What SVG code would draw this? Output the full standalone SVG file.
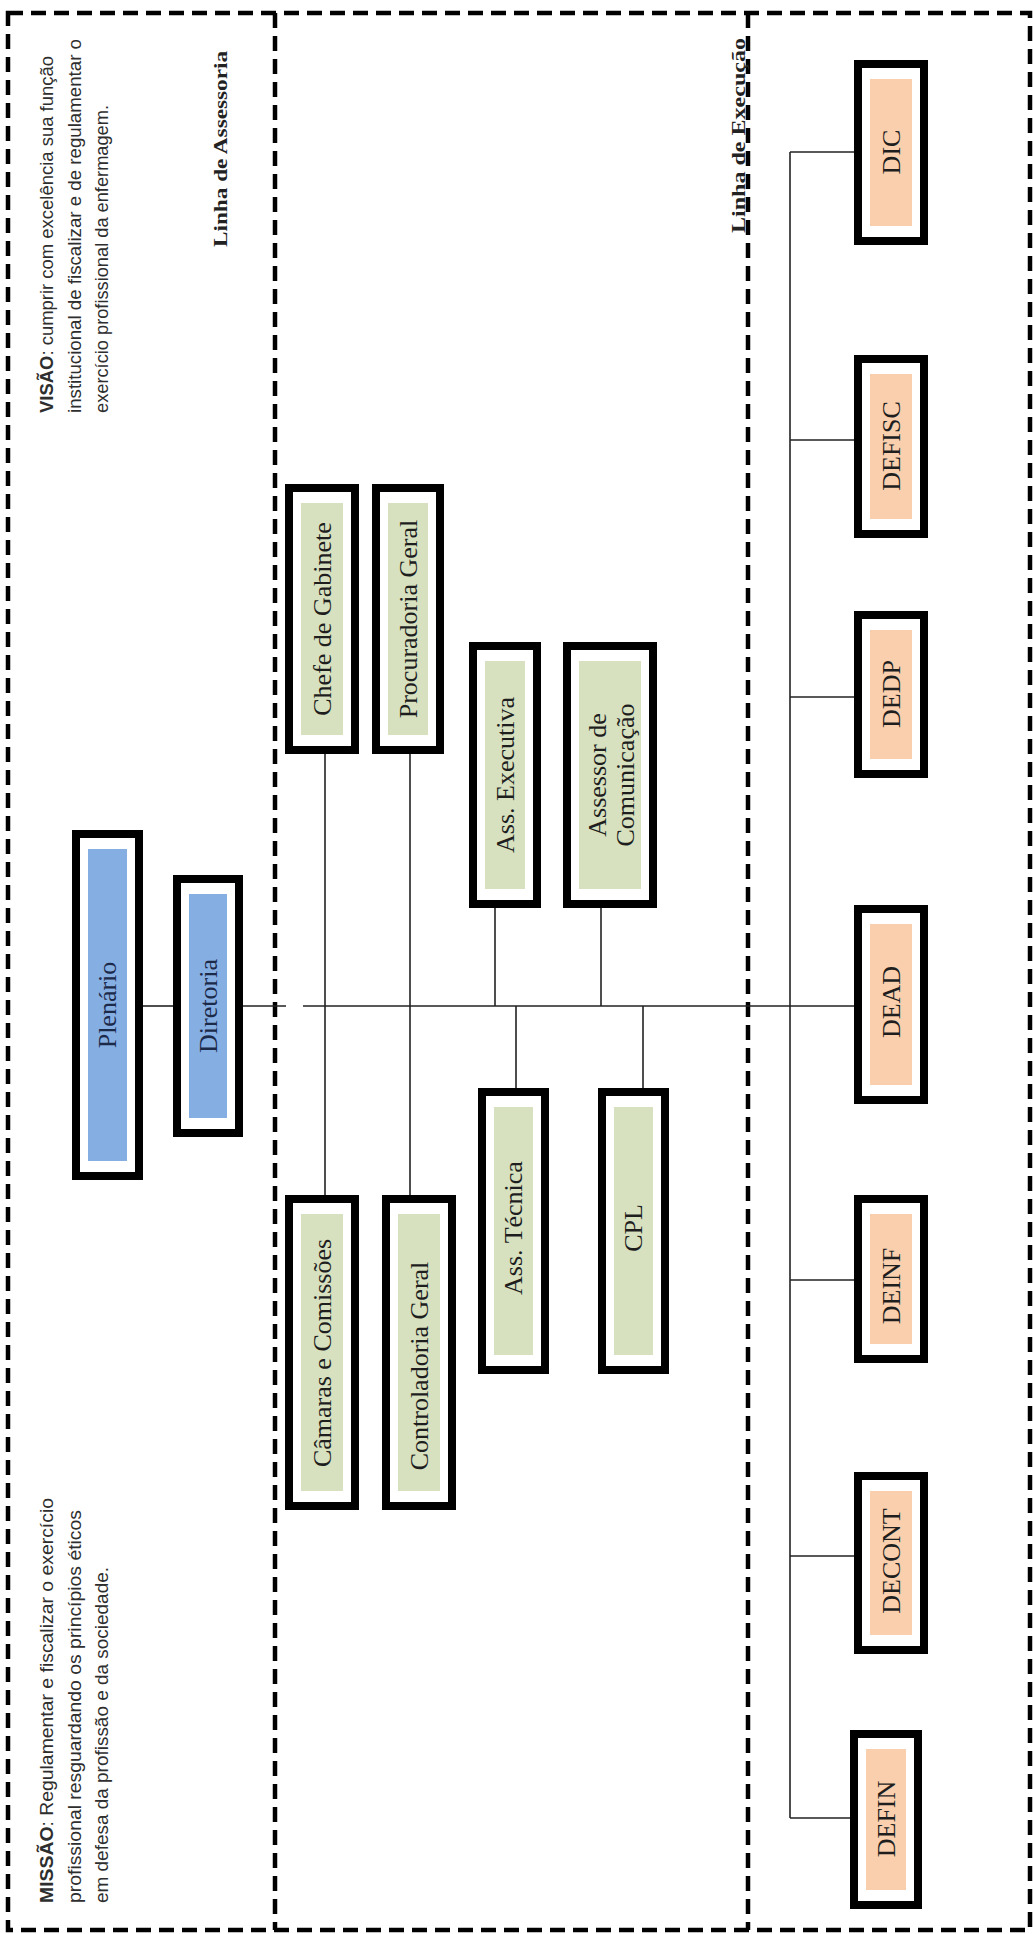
<svg xmlns="http://www.w3.org/2000/svg" width="1033" height="1934" viewBox="0 0 1033 1934">
<style>
.bg{fill:#fff}
.dash{fill:none;stroke:#000;stroke-width:4.5;stroke-dasharray:15 8}
.frame{fill:#fff;stroke:#000;stroke-width:8}
.blue{fill:#85aee3}
.green{fill:#d7e1bf}
.peach{fill:#f9cfad}
.lbl{font-family:"Liberation Serif","Times New Roman",serif;font-size:26px;text-anchor:middle;dominant-baseline:central;fill:#1e1e1e}
.lblb{fill:#1c2a4a}
.conn line{stroke:#222;stroke-width:1.6}
.para{font-family:"Liberation Sans",Arial,sans-serif;font-size:18px;fill:#2e2e2e;dominant-baseline:central}
.head{font-family:"Liberation Serif","Times New Roman",serif;font-size:19px;font-weight:bold;fill:#222;dominant-baseline:central}
</style>
<rect class="bg" x="0" y="0" width="1033" height="1934"/>
<g id="frames">
<rect class="dash" x="8" y="13" width="1022" height="1917"/>
<line class="dash" x1="275" y1="13" x2="275" y2="1930"/>
<line class="dash" x1="748" y1="13" x2="748" y2="1930"/>
</g>
<g id="texts">
<text class="para" transform="translate(47,413) rotate(-90)" textLength="357" lengthAdjust="spacingAndGlyphs"><tspan font-weight="bold">VISÃO</tspan>: cumprir com excelência sua função</text>
<text class="para" transform="translate(75,413) rotate(-90)" textLength="374" lengthAdjust="spacingAndGlyphs">institucional de fiscalizar e de regulamentar o</text>
<text class="para" transform="translate(102,413) rotate(-90)" textLength="308" lengthAdjust="spacingAndGlyphs">exercício profissional da enfermagem.</text>
<text class="para" transform="translate(47,1903) rotate(-90)" textLength="405" lengthAdjust="spacingAndGlyphs"><tspan font-weight="bold">MISSÃO</tspan>: Regulamentar e fiscalizar o exercício</text>
<text class="para" transform="translate(75,1903) rotate(-90)" textLength="393" lengthAdjust="spacingAndGlyphs">profissional resguardando os princípios éticos</text>
<text class="para" transform="translate(102,1903) rotate(-90)" textLength="336" lengthAdjust="spacingAndGlyphs">em defesa da profissão e da sociedade.</text>
<text class="head" transform="translate(220,247) rotate(-90)" textLength="196" lengthAdjust="spacingAndGlyphs">Linha de Assessoria</text>
<text class="head" transform="translate(738,233) rotate(-90)" textLength="195" lengthAdjust="spacingAndGlyphs">Linha de Execução</text>
</g>
<g id="connectors" class="conn">
<line x1="143" y1="1006" x2="173" y2="1006"/>
<line x1="243" y1="1006" x2="286" y2="1006"/>
<line x1="303" y1="1006" x2="854" y2="1006"/>
<line x1="325" y1="754" x2="325" y2="1195"/>
<line x1="410" y1="754" x2="410" y2="1195"/>
<line x1="495" y1="908" x2="495" y2="1006"/>
<line x1="601" y1="908" x2="601" y2="1006"/>
<line x1="516" y1="1006" x2="516" y2="1088"/>
<line x1="643" y1="1006" x2="643" y2="1088"/>
<line x1="790" y1="152" x2="790" y2="1818"/>
<line x1="790" y1="152" x2="854" y2="152"/>
<line x1="790" y1="440" x2="854" y2="440"/>
<line x1="790" y1="697" x2="854" y2="697"/>
<line x1="790" y1="1280" x2="854" y2="1280"/>
<line x1="790" y1="1556" x2="854" y2="1556"/>
<line x1="790" y1="1818" x2="850" y2="1818"/>
</g>
<g id="plenario"><rect class="frame" x="76" y="834" width="63" height="342"/><rect class="blue" x="88" y="849" width="39" height="312"/><text class="lbl lblb" transform="translate(107.5,1005) rotate(-90)">Plenário</text></g>
<g id="diretoria"><rect class="frame" x="177" y="879" width="62" height="254"/><rect class="blue" x="189" y="894" width="38" height="224"/><text class="lbl lblb" transform="translate(208,1006) rotate(-90)">Diretoria</text></g>
<g id="chefe-gabinete"><rect class="frame" x="289" y="488" width="66" height="262"/><rect class="green" x="301" y="503" width="42" height="232"/><text class="lbl" transform="translate(322,619) rotate(-90)">Chefe de Gabinete</text></g>
<g id="procuradoria-geral"><rect class="frame" x="376" y="488" width="64" height="262"/><rect class="green" x="388" y="503" width="40" height="232"/><text class="lbl" transform="translate(408,619) rotate(-90)">Procuradoria Geral</text></g>
<g id="ass-executiva"><rect class="frame" x="473" y="646" width="64" height="258"/><rect class="green" x="485" y="661" width="40" height="228"/><text class="lbl" transform="translate(505,775) rotate(-90)">Ass. Executiva</text></g>
<g id="assessor-comunicacao"><rect class="frame" x="567" y="646" width="86" height="258"/><rect class="green" x="579" y="661" width="62" height="228"/><text class="lbl" transform="translate(597,775) rotate(-90)">Assessor de</text><text class="lbl" transform="translate(625,775) rotate(-90)">Comunicação</text></g>
<g id="camaras-comissoes"><rect class="frame" x="289" y="1199" width="66" height="307"/><rect class="green" x="301" y="1214" width="42" height="277"/><text class="lbl" transform="translate(322,1353) rotate(-90)">Câmaras e Comissões</text></g>
<g id="controladoria-geral"><rect class="frame" x="386" y="1199" width="66" height="307"/><rect class="green" x="398" y="1214" width="42" height="277"/><text class="lbl" transform="translate(419,1366) rotate(-90)">Controladoria Geral</text></g>
<g id="ass-tecnica"><rect class="frame" x="482" y="1092" width="63" height="278"/><rect class="green" x="494" y="1107" width="39" height="248"/><text class="lbl" transform="translate(513.5,1228) rotate(-90)">Ass. Técnica</text></g>
<g id="cpl"><rect class="frame" x="602" y="1092" width="63" height="278"/><rect class="green" x="614" y="1107" width="39" height="248"/><text class="lbl" transform="translate(633.5,1228) rotate(-90)">CPL</text></g>
<g id="dic"><rect class="frame" x="858" y="64" width="66" height="177"/><rect class="peach" x="870" y="79" width="42" height="147"/><text class="lbl" transform="translate(891,152) rotate(-90)">DIC</text></g>
<g id="defisc"><rect class="frame" x="858" y="359" width="66" height="175"/><rect class="peach" x="870" y="374" width="42" height="145"/><text class="lbl" transform="translate(891,446) rotate(-90)">DEFISC</text></g>
<g id="dedp"><rect class="frame" x="858" y="615" width="66" height="159"/><rect class="peach" x="870" y="630" width="42" height="129"/><text class="lbl" transform="translate(891,694) rotate(-90)">DEDP</text></g>
<g id="dead"><rect class="frame" x="858" y="909" width="66" height="191"/><rect class="peach" x="870" y="924" width="42" height="161"/><text class="lbl" transform="translate(891,1002) rotate(-90)">DEAD</text></g>
<g id="deinf"><rect class="frame" x="858" y="1199" width="66" height="160"/><rect class="peach" x="870" y="1214" width="42" height="130"/><text class="lbl" transform="translate(891,1286) rotate(-90)">DEINF</text></g>
<g id="decont"><rect class="frame" x="858" y="1476" width="66" height="174"/><rect class="peach" x="870" y="1491" width="42" height="144"/><text class="lbl" transform="translate(891,1561) rotate(-90)">DECONT</text></g>
<g id="defin"><rect class="frame" x="854" y="1734" width="64" height="171"/><rect class="peach" x="866" y="1749" width="40" height="141"/><text class="lbl" transform="translate(886,1819) rotate(-90)">DEFIN</text></g>
</svg>
